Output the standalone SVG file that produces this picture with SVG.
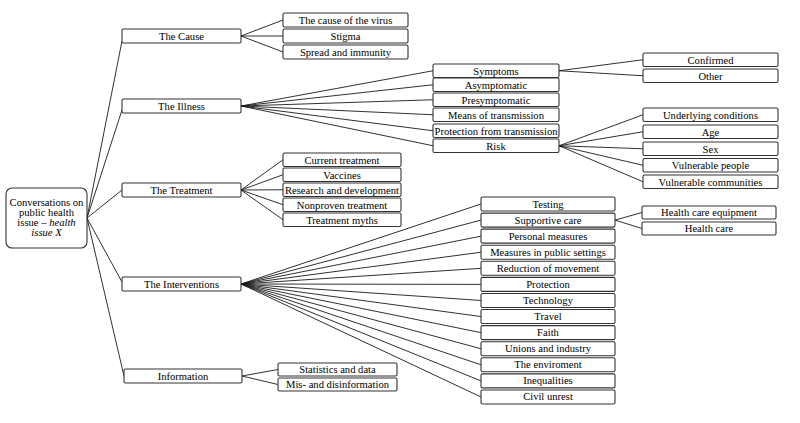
<svg xmlns="http://www.w3.org/2000/svg" width="800" height="423" viewBox="0 0 800 423">
<style>
.b{fill:#fff;stroke:#333;stroke-width:1.1}
.t{font-family:'Liberation Serif','Times New Roman',serif;font-size:10.6px;fill:#000;text-anchor:middle}
.c line{stroke:#1a1a1a;stroke-width:0.9}
</style>
<rect width="800" height="423" fill="#fff"/>
<g class="c" id="connectors">
<line x1="87" y1="218" x2="122" y2="41"/>
<line x1="87" y1="218" x2="122" y2="110"/>
<line x1="87" y1="218" x2="122" y2="190"/>
<line x1="87" y1="218" x2="122" y2="282"/>
<line x1="87" y1="218" x2="124" y2="376"/>
<line x1="241" y1="36" x2="283" y2="20"/>
<line x1="241" y1="36" x2="283" y2="36"/>
<line x1="241" y1="36" x2="283" y2="52"/>
<line x1="241" y1="106" x2="433" y2="70.75"/>
<line x1="241" y1="106" x2="433" y2="84.75"/>
<line x1="241" y1="106" x2="433" y2="99.75"/>
<line x1="241" y1="106" x2="433" y2="114.75"/>
<line x1="241" y1="106" x2="433" y2="130.75"/>
<line x1="241" y1="106" x2="433" y2="145.75"/>
<line x1="559" y1="70.75" x2="643" y2="59.75"/>
<line x1="559" y1="70.75" x2="643" y2="75.75"/>
<line x1="559" y1="145.75" x2="643" y2="114.75"/>
<line x1="559" y1="145.75" x2="643" y2="131.75"/>
<line x1="559" y1="145.75" x2="643" y2="148.75"/>
<line x1="559" y1="145.75" x2="643" y2="165.25"/>
<line x1="559" y1="145.75" x2="643" y2="181.75"/>
<line x1="241" y1="190" x2="283" y2="159.75"/>
<line x1="241" y1="190" x2="283" y2="174.75"/>
<line x1="241" y1="190" x2="283" y2="189.75"/>
<line x1="241" y1="190" x2="283" y2="204.75"/>
<line x1="241" y1="190" x2="283" y2="219.75"/>
<line x1="241" y1="284" x2="481" y2="204"/>
<line x1="241" y1="284" x2="481" y2="220.08"/>
<line x1="241" y1="284" x2="481" y2="236.16"/>
<line x1="241" y1="284" x2="481" y2="252.24"/>
<line x1="241" y1="284" x2="481" y2="268.32"/>
<line x1="241" y1="284" x2="481" y2="284.4"/>
<line x1="241" y1="284" x2="481" y2="300.48"/>
<line x1="241" y1="284" x2="481" y2="316.56"/>
<line x1="241" y1="284" x2="481" y2="332.64"/>
<line x1="241" y1="284" x2="481" y2="348.72"/>
<line x1="241" y1="284" x2="481" y2="364.8"/>
<line x1="241" y1="284" x2="481" y2="380.88"/>
<line x1="241" y1="284" x2="481" y2="396.96"/>
<line x1="615" y1="220.08" x2="642" y2="212.5"/>
<line x1="615" y1="220.08" x2="642" y2="228.5"/>
<line x1="242" y1="376" x2="278" y2="369.5"/>
<line x1="242" y1="376" x2="278" y2="384.5"/>
</g>
<g id="root">
<rect class="b" x="6" y="188" width="81" height="60" rx="6"/>
<text class="t" x="46.5" y="206">Conversations on</text>
<text class="t" x="46.5" y="216">public health</text>
<text class="t" x="46.5" y="226">issue – <tspan font-style="italic">health</tspan></text>
<text class="t" x="46.5" y="236" font-style="italic">issue X</text>
</g>
<g id="cause"><rect class="b" x="122" y="29" width="119" height="14" rx="1.5"/><text class="t" x="181.5" y="39.5">The Cause</text></g>
<g id="illness"><rect class="b" x="122" y="99" width="119" height="14" rx="1.5"/><text class="t" x="181.5" y="109.5">The Illness</text></g>
<g id="treatment"><rect class="b" x="122" y="183" width="119" height="14" rx="1.5"/><text class="t" x="181.5" y="193.5">The Treatment</text></g>
<g id="interventions"><rect class="b" x="122" y="277" width="119" height="14" rx="1.5"/><text class="t" x="181.5" y="287.5">The Interventions</text></g>
<g id="information"><rect class="b" x="124" y="369" width="118" height="14" rx="1.5"/><text class="t" x="183" y="379.5">Information</text></g>

<g id="cause-virus"><rect class="b" x="283" y="13" width="125" height="14" rx="1.5"/><text class="t" x="345.5" y="23.5">The cause of the virus</text></g>
<g id="stigma"><rect class="b" x="283" y="29" width="125" height="14" rx="1.5"/><text class="t" x="345.5" y="39.5">Stigma</text></g>
<g id="spread"><rect class="b" x="283" y="45" width="125" height="14" rx="1.5"/><text class="t" x="345.5" y="55.5">Spread and immunity</text></g>

<g id="symptoms"><rect class="b" x="433" y="64" width="126" height="13.5" rx="1.5"/><text class="t" x="496" y="74.5">Symptoms</text></g>
<g id="asymptomatic"><rect class="b" x="433" y="78" width="126" height="13.5" rx="1.5"/><text class="t" x="496" y="88.5">Asymptomatic</text></g>
<g id="presymptomatic"><rect class="b" x="433" y="93" width="126" height="13.5" rx="1.5"/><text class="t" x="496" y="103.5">Presymptomatic</text></g>
<g id="means"><rect class="b" x="433" y="108" width="126" height="13.5" rx="1.5"/><text class="t" x="496" y="118.5">Means of transmission</text></g>
<g id="protection-trans"><rect class="b" x="433" y="124" width="126" height="13.5" rx="1.5"/><text class="t" x="496" y="134.5">Protection from transmission</text></g>
<g id="risk"><rect class="b" x="433" y="139" width="126" height="13.5" rx="1.5"/><text class="t" x="496" y="149.5">Risk</text></g>

<g id="confirmed"><rect class="b" x="643" y="53" width="135" height="13.5" rx="1.5"/><text class="t" x="710.5" y="63.5">Confirmed</text></g>
<g id="other"><rect class="b" x="643" y="69" width="135" height="13.5" rx="1.5"/><text class="t" x="710.5" y="79.5">Other</text></g>

<g id="underlying"><rect class="b" x="643" y="108" width="135" height="13.5" rx="1.5"/><text class="t" x="710.5" y="118.5">Underlying conditions</text></g>
<g id="age"><rect class="b" x="643" y="125" width="135" height="13.5" rx="1.5"/><text class="t" x="710.5" y="135.5">Age</text></g>
<g id="sex"><rect class="b" x="643" y="142" width="135" height="13.5" rx="1.5"/><text class="t" x="710.5" y="152.5">Sex</text></g>
<g id="vuln-people"><rect class="b" x="643" y="158.5" width="135" height="13.5" rx="1.5"/><text class="t" x="710.5" y="169">Vulnerable people</text></g>
<g id="vuln-comm"><rect class="b" x="643" y="175" width="135" height="13.5" rx="1.5"/><text class="t" x="710.5" y="185.5">Vulnerable communities</text></g>

<g id="current"><rect class="b" x="283" y="153" width="118" height="13.5" rx="1.5"/><text class="t" x="342" y="163.5">Current treatment</text></g>
<g id="vaccines"><rect class="b" x="283" y="168" width="118" height="13.5" rx="1.5"/><text class="t" x="342" y="178.5">Vaccines</text></g>
<g id="research"><rect class="b" x="283" y="183" width="118" height="13.5" rx="1.5"/><text class="t" x="342" y="193.5">Research and development</text></g>
<g id="nonproven"><rect class="b" x="283" y="198" width="118" height="13.5" rx="1.5"/><text class="t" x="342" y="208.5">Nonproven treatment</text></g>
<g id="myths"><rect class="b" x="283" y="213" width="118" height="13.5" rx="1.5"/><text class="t" x="342" y="223.5">Treatment myths</text></g>

<g id="testing"><rect class="b" x="481" y="197" width="134" height="14" rx="1.5"/><text class="t" x="548" y="207.5">Testing</text></g>
<g id="supportive"><rect class="b" x="481" y="213.08" width="134" height="14" rx="1.5"/><text class="t" x="548" y="223.58">Supportive care</text></g>
<g id="personal"><rect class="b" x="481" y="229.16" width="134" height="14" rx="1.5"/><text class="t" x="548" y="239.66">Personal measures</text></g>
<g id="public-settings"><rect class="b" x="481" y="245.24" width="134" height="14" rx="1.5"/><text class="t" x="548" y="255.74">Measures in public settings</text></g>
<g id="reduction"><rect class="b" x="481" y="261.32" width="134" height="14" rx="1.5"/><text class="t" x="548" y="271.82">Reduction of movement</text></g>
<g id="protection"><rect class="b" x="481" y="277.4" width="134" height="14" rx="1.5"/><text class="t" x="548" y="287.9">Protection</text></g>
<g id="technology"><rect class="b" x="481" y="293.48" width="134" height="14" rx="1.5"/><text class="t" x="548" y="303.98">Technology</text></g>
<g id="travel"><rect class="b" x="481" y="309.56" width="134" height="14" rx="1.5"/><text class="t" x="548" y="320.06">Travel</text></g>
<g id="faith"><rect class="b" x="481" y="325.64" width="134" height="14" rx="1.5"/><text class="t" x="548" y="336.14">Faith</text></g>
<g id="unions"><rect class="b" x="481" y="341.72" width="134" height="14" rx="1.5"/><text class="t" x="548" y="352.22">Unions and industry</text></g>
<g id="enviroment"><rect class="b" x="481" y="357.8" width="134" height="14" rx="1.5"/><text class="t" x="548" y="368.3">The enviroment</text></g>
<g id="inequalities"><rect class="b" x="481" y="373.88" width="134" height="14" rx="1.5"/><text class="t" x="548" y="384.38">Inequalities</text></g>
<g id="civil"><rect class="b" x="481" y="389.96" width="134" height="14" rx="1.5"/><text class="t" x="548" y="400.46">Civil unrest</text></g>

<g id="hc-equipment"><rect class="b" x="642" y="206" width="134" height="13" rx="1.5"/><text class="t" x="709" y="216">Health care equipment</text></g>
<g id="health-care"><rect class="b" x="642" y="222" width="134" height="13" rx="1.5"/><text class="t" x="709" y="232">Health care</text></g>

<g id="statistics"><rect class="b" x="278" y="363" width="119" height="13" rx="1.5"/><text class="t" x="337.5" y="373">Statistics and data</text></g>
<g id="misinfo"><rect class="b" x="278" y="378" width="119" height="13" rx="1.5"/><text class="t" x="337.5" y="388">Mis- and disinformation</text></g>
</svg>
